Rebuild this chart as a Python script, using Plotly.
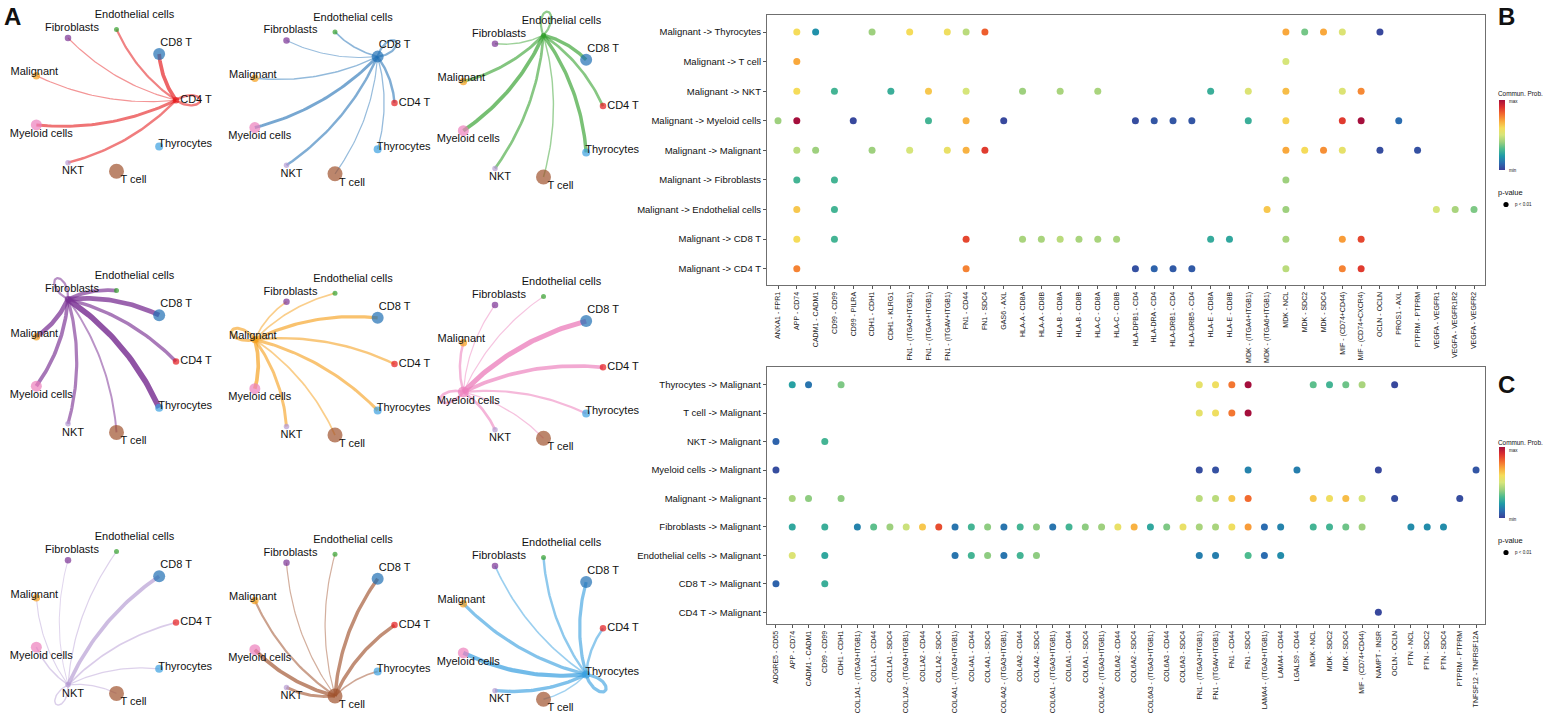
import math
import numpy as np
import plotly.graph_objects as go

W, H = 1545, 713
FONT = "Arial, 'Liberation Sans', Helvetica, sans-serif"

# ---------------- Panel A data ----------------
cell_groups = ["CD4 T", "CD8 T", "Endothelial cells", "Fibroblasts", "Malignant",
               "Myeloid cells", "NKT", "T cell", "Thyrocytes"]
group_colors = ["#e41a1c", "#1f6fb4", "#33a02c", "#7b3294", "#f59e1a",
                "#ec7fbc", "#b59bd3", "#a0522d", "#3aa0e0"]
group_size = [6.5, 12, 5, 6.5, 7.5, 11, 5.5, 15, 8]

# relative interaction strength: sender -> receivers (receivers in cell_groups order)
from_cd4t = [0.35, 0.60, 0.30, 0.10, 0.10, 0.45, 0.35, 0.00, 0.00]
from_cd8t = [0.35, 0.30, 0.20, 0.08, 0.15, 0.45, 0.35, 0.10, 0.12]
from_endothelial = [0.40, 0.55, 0.30, 0.15, 0.45, 0.60, 0.40, 0.15, 0.55]
from_fibroblasts = [0.55, 0.80, 0.60, 0.30, 0.75, 0.60, 0.50, 0.25, 1.00]
from_malignant = [0.35, 0.50, 0.20, 0.20, 0.45, 0.60, 0.45, 0.20, 0.45]
from_myeloid = [0.60, 0.85, 0.10, 0.10, 0.35, 0.40, 0.40, 0.12, 0.30]
from_nkt = [0.20, 0.60, 0.10, 0.05, 0.08, 0.15, 0.15, 0.10, 0.10]
from_tcell = [0.55, 0.55, 0.10, 0.10, 0.30, 0.60, 0.45, 0.00, 0.20]
from_thyrocytes = [0.35, 0.50, 0.35, 0.20, 0.50, 0.70, 0.55, 0.15, 0.50]
sender_strengths = [from_cd4t, from_cd8t, from_endothelial, from_fibroblasts, from_malignant,
                    from_myeloid, from_nkt, from_tcell, from_thyrocytes]

# ---------------- Panel B data ----------------
b_rows = ["Malignant -> Thyrocytes", "Malignant -> T cell", "Malignant -> NKT",
          "Malignant -> Myeloid cells", "Malignant -> Malignant", "Malignant -> Fibroblasts",
          "Malignant -> Endothelial cells", "Malignant -> CD8 T", "Malignant -> CD4 T"]
b_pairs = ["ANXA1 - FPR1", "APP - CD74", "CADM1 - CADM1", "CD99 - CD99", "CD99 - PILRA",
           "CDH1 - CDH1", "CDH1 - KLRG1", "FN1 - (ITGA3+ITGB1)", "FN1 - (ITGA4+ITGB1)",
           "FN1 - (ITGAV+ITGB1)", "FN1 - CD44", "FN1 - SDC4", "GAS6 - AXL", "HLA-A - CD8A",
           "HLA-A - CD8B", "HLA-B - CD8A", "HLA-B - CD8B", "HLA-C - CD8A", "HLA-C - CD8B",
           "HLA-DPB1 - CD4", "HLA-DRA - CD4", "HLA-DRB1 - CD4", "HLA-DRB5 - CD4",
           "HLA-E - CD8A", "HLA-E - CD8B", "MDK - (ITGA4+ITGB1)", "MDK - (ITGA6+ITGB1)",
           "MDK - NCL", "MDK - SDC2", "MDK - SDC4", "MIF - (CD74+CD44)", "MIF - (CD74+CXCR4)",
           "OCLN - OCLN", "PROS1 - AXL", "PTPRM - PTPRM", "VEGFA - VEGFR1", "VEGFA - VEGFR1R2",
           "VEGFA - VEGFR2"]
b_to_thyrocytes = {"APP - CD74": 0.60, "CADM1 - CADM1": 0.18, "CDH1 - CDH1": 0.40,
                   "FN1 - (ITGA3+ITGB1)": 0.60, "FN1 - (ITGAV+ITGB1)": 0.58, "FN1 - CD44": 0.45,
                   "FN1 - SDC4": 0.82, "MDK - NCL": 0.70, "MDK - SDC2": 0.35, "MDK - SDC4": 0.70,
                   "MIF - (CD74+CD44)": 0.52, "OCLN - OCLN": 0.02}
b_to_tcell = {"APP - CD74": 0.70, "MDK - NCL": 0.50}
b_to_nkt = {"APP - CD74": 0.60, "CD99 - CD99": 0.28, "CDH1 - KLRG1": 0.26,
            "FN1 - (ITGA4+ITGB1)": 0.64, "FN1 - CD44": 0.50, "HLA-A - CD8A": 0.40,
            "HLA-B - CD8A": 0.42, "HLA-C - CD8A": 0.42, "HLA-E - CD8A": 0.26,
            "MDK - (ITGA4+ITGB1)": 0.52, "MDK - NCL": 0.66, "MIF - (CD74+CD44)": 0.52,
            "MIF - (CD74+CXCR4)": 0.75}
b_to_myeloid = {"ANXA1 - FPR1": 0.40, "APP - CD74": 1.00, "CD99 - PILRA": 0.02,
                "FN1 - (ITGA4+ITGB1)": 0.28, "FN1 - CD44": 0.68, "GAS6 - AXL": 0.02,
                "HLA-DPB1 - CD4": 0.03, "HLA-DRA - CD4": 0.05, "HLA-DRB1 - CD4": 0.05,
                "HLA-DRB5 - CD4": 0.05, "MDK - (ITGA4+ITGB1)": 0.26, "MDK - NCL": 0.62,
                "MIF - (CD74+CD44)": 0.88, "MIF - (CD74+CXCR4)": 1.00, "PROS1 - AXL": 0.10}
b_to_malignant = {"APP - CD74": 0.45, "CADM1 - CADM1": 0.40, "CDH1 - CDH1": 0.40,
                  "FN1 - (ITGA3+ITGB1)": 0.50, "FN1 - (ITGAV+ITGB1)": 0.56, "FN1 - CD44": 0.68,
                  "FN1 - SDC4": 0.88, "MDK - NCL": 0.70, "MDK - SDC2": 0.60, "MDK - SDC4": 0.74,
                  "MIF - (CD74+CD44)": 0.55, "OCLN - OCLN": 0.03, "PTPRM - PTPRM": 0.04}
b_to_fibroblasts = {"APP - CD74": 0.28, "CD99 - CD99": 0.28, "MDK - NCL": 0.40}
b_to_endothelial = {"APP - CD74": 0.64, "CD99 - CD99": 0.28, "MDK - (ITGA6+ITGB1)": 0.64,
                    "MDK - NCL": 0.40, "VEGFA - VEGFR1": 0.50, "VEGFA - VEGFR1R2": 0.42,
                    "VEGFA - VEGFR2": 0.36}
b_to_cd8t = {"APP - CD74": 0.60, "CD99 - CD99": 0.28, "FN1 - CD44": 0.86, "HLA-A - CD8A": 0.42,
             "HLA-A - CD8B": 0.42, "HLA-B - CD8A": 0.45, "HLA-B - CD8B": 0.42,
             "HLA-C - CD8A": 0.42, "HLA-C - CD8B": 0.42, "HLA-E - CD8A": 0.25,
             "HLA-E - CD8B": 0.24, "MDK - NCL": 0.42, "MIF - (CD74+CD44)": 0.72,
             "MIF - (CD74+CXCR4)": 0.86}
b_to_cd4t = {"APP - CD74": 0.76, "FN1 - CD44": 0.76, "HLA-DPB1 - CD4": 0.04,
             "HLA-DRA - CD4": 0.08, "HLA-DRB1 - CD4": 0.06, "HLA-DRB5 - CD4": 0.06,
             "MDK - NCL": 0.45, "MIF - (CD74+CD44)": 0.76, "MIF - (CD74+CXCR4)": 0.88}
b_values = [b_to_thyrocytes, b_to_tcell, b_to_nkt, b_to_myeloid, b_to_malignant,
            b_to_fibroblasts, b_to_endothelial, b_to_cd8t, b_to_cd4t]

# ---------------- Panel C data ----------------
c_rows = ["Thyrocytes -> Malignant", "T cell -> Malignant", "NKT -> Malignant",
          "Myeloid cells -> Malignant", "Malignant -> Malignant", "Fibroblasts -> Malignant",
          "Endothelial cells -> Malignant", "CD8 T -> Malignant", "CD4 T -> Malignant"]
c_pairs = ["ADGRE5 - CD55", "APP - CD74", "CADM1 - CADM1", "CD99 - CD99", "CDH1 - CDH1",
           "COL1A1 - (ITGA3+ITGB1)", "COL1A1 - CD44", "COL1A1 - SDC4",
           "COL1A2 - (ITGA3+ITGB1)", "COL1A2 - CD44", "COL1A2 - SDC4",
           "COL4A1 - (ITGA3+ITGB1)", "COL4A1 - CD44", "COL4A1 - SDC4",
           "COL4A2 - (ITGA3+ITGB1)", "COL4A2 - CD44", "COL4A2 - SDC4",
           "COL6A1 - (ITGA3+ITGB1)", "COL6A1 - CD44", "COL6A1 - SDC4",
           "COL6A2 - (ITGA3+ITGB1)", "COL6A2 - CD44", "COL6A2 - SDC4",
           "COL6A3 - (ITGA3+ITGB1)", "COL6A3 - CD44", "COL6A3 - SDC4",
           "FN1 - (ITGA3+ITGB1)", "FN1 - (ITGAV+ITGB1)", "FN1 - CD44", "FN1 - SDC4",
           "LAMA4 - (ITGA3+ITGB1)", "LAMA4 - CD44", "LGALS9 - CD44", "MDK - NCL", "MDK - SDC2",
           "MDK - SDC4", "MIF - (CD74+CD44)", "NAMPT - INSR", "OCLN - OCLN", "PTN - NCL",
           "PTN - SDC2", "PTN - SDC4", "PTPRM - PTPRM", "TNFSF12 - TNFRSF12A"]
c_from_thyrocytes = {"APP - CD74": 0.22, "CADM1 - CADM1": 0.12, "CDH1 - CDH1": 0.36,
                     "FN1 - (ITGA3+ITGB1)": 0.55, "FN1 - (ITGAV+ITGB1)": 0.58, "FN1 - CD44": 0.78,
                     "FN1 - SDC4": 1.00, "MDK - NCL": 0.32, "MDK - SDC2": 0.28, "MDK - SDC4": 0.34,
                     "MIF - (CD74+CD44)": 0.42, "OCLN - OCLN": 0.02}
c_from_tcell = {"FN1 - (ITGA3+ITGB1)": 0.55, "FN1 - (ITGAV+ITGB1)": 0.58, "FN1 - CD44": 0.78,
                "FN1 - SDC4": 1.00}
c_from_nkt = {"ADGRE5 - CD55": 0.08, "CD99 - CD99": 0.28}
c_from_myeloid = {"ADGRE5 - CD55": 0.03, "FN1 - (ITGA3+ITGB1)": 0.03,
                  "FN1 - (ITGAV+ITGB1)": 0.04, "FN1 - SDC4": 0.15, "LGALS9 - CD44": 0.14,
                  "NAMPT - INSR": 0.02, "TNFSF12 - TNFRSF12A": 0.05}
c_from_malignant = {"APP - CD74": 0.42, "CADM1 - CADM1": 0.38, "CDH1 - CDH1": 0.38,
                    "FN1 - (ITGA3+ITGB1)": 0.45, "FN1 - (ITGAV+ITGB1)": 0.45, "FN1 - CD44": 0.64,
                    "FN1 - SDC4": 0.80, "MDK - NCL": 0.64, "MDK - SDC2": 0.58, "MDK - SDC4": 0.66,
                    "MIF - (CD74+CD44)": 0.50, "OCLN - OCLN": 0.03, "PTPRM - PTPRM": 0.03}
c_from_fibroblasts = {"APP - CD74": 0.24, "CD99 - CD99": 0.26,
                      "COL1A1 - (ITGA3+ITGB1)": 0.15, "COL1A1 - CD44": 0.32, "COL1A1 - SDC4": 0.40,
                      "COL1A2 - (ITGA3+ITGB1)": 0.48, "COL1A2 - CD44": 0.64, "COL1A2 - SDC4": 0.85,
                      "COL4A1 - (ITGA3+ITGB1)": 0.12, "COL4A1 - CD44": 0.28, "COL4A1 - SDC4": 0.38,
                      "COL4A2 - (ITGA3+ITGB1)": 0.12, "COL4A2 - CD44": 0.28, "COL4A2 - SDC4": 0.38,
                      "COL6A1 - (ITGA3+ITGB1)": 0.12, "COL6A1 - CD44": 0.28, "COL6A1 - SDC4": 0.38,
                      "COL6A2 - (ITGA3+ITGB1)": 0.40, "COL6A2 - CD44": 0.56, "COL6A2 - SDC4": 0.68,
                      "COL6A3 - (ITGA3+ITGB1)": 0.24, "COL6A3 - CD44": 0.36, "COL6A3 - SDC4": 0.56,
                      "FN1 - (ITGA3+ITGB1)": 0.42, "FN1 - (ITGAV+ITGB1)": 0.42, "FN1 - CD44": 0.58,
                      "FN1 - SDC4": 0.72, "LAMA4 - (ITGA3+ITGB1)": 0.10, "LAMA4 - CD44": 0.15,
                      "MDK - NCL": 0.28, "MDK - SDC2": 0.28, "MDK - SDC4": 0.34,
                      "MIF - (CD74+CD44)": 0.40, "PTN - NCL": 0.17, "PTN - SDC2": 0.17,
                      "PTN - SDC4": 0.17}
c_from_endothelial = {"APP - CD74": 0.52, "CD99 - CD99": 0.24,
                      "COL4A1 - (ITGA3+ITGB1)": 0.12, "COL4A1 - CD44": 0.28, "COL4A1 - SDC4": 0.38,
                      "COL4A2 - (ITGA3+ITGB1)": 0.12, "COL4A2 - CD44": 0.28, "COL4A2 - SDC4": 0.38,
                      "FN1 - (ITGA3+ITGB1)": 0.14, "FN1 - (ITGAV+ITGB1)": 0.14, "FN1 - SDC4": 0.30,
                      "LAMA4 - (ITGA3+ITGB1)": 0.10, "LAMA4 - CD44": 0.17}
c_from_cd8t = {"ADGRE5 - CD55": 0.08, "CD99 - CD99": 0.26}
c_from_cd4t = {"NAMPT - INSR": 0.02}
c_values = [c_from_thyrocytes, c_from_tcell, c_from_nkt, c_from_myeloid, c_from_malignant,
            c_from_fibroblasts, c_from_endothelial, c_from_cd8t, c_from_cd4t]

# ---------------- styles / geometry ----------------
PROB_SCALE = [[0.0, "#3b3f98"], [0.1, "#2b6cb0"], [0.2, "#1f9aa8"], [0.3, "#4dbb8f"],
              [0.4, "#9ed07e"], [0.5, "#d6e57a"], [0.6, "#f5dc5a"], [0.7, "#f9a83c"],
              [0.8, "#f26a2e"], [0.9, "#dc2f2f"], [1.0, "#a50f3c"]]
R = 72.0
CURV = 0.14
col_cx = [104.0, 322.5, 531.0]
row_cy = [100.3, 361.5, 622.5]
col_dy = [0.0, 2.6, 5.8]
label_offset = {"CD4 T": (20, 0), "CD8 T": (17, -11), "Endothelial cells": (18, -14),
                "Fibroblasts": (4, -10), "Malignant": (-2, -3), "Myeloid cells": (5, 9),
                "NKT": (5, 9), "T cell": (17, 9), "Thyrocytes": (26, -2)}


def rgba(hx, a):
    hx = hx.lstrip("#")
    r, g, b = int(hx[0:2], 16), int(hx[2:4], 16), int(hx[4:6], 16)
    return f"rgba({r},{g},{b},{a:.3f})"


def bezier(p0, p2, curv=CURV, n=40):
    dx, dy = p2[0] - p0[0], p2[1] - p0[1]
    mx, my = (p0[0] + p2[0]) / 2, (p0[1] + p2[1]) / 2
    cx, cy = mx + curv * dy, my - curv * dx
    t = np.linspace(0, 1, n)
    x = (1 - t) ** 2 * p0[0] + 2 * (1 - t) * t * cx + t ** 2 * p2[0]
    y = (1 - t) ** 2 * p0[1] + 2 * (1 - t) * t * cy + t ** 2 * p2[1]
    return x, y


def loop(p, theta, length=24, spread=0.6, n=50):
    t = np.linspace(0, 1, n)
    r = length * np.sin(np.pi * t)
    ang = theta + (t - 0.5) * spread * 2
    return p[0] + r * np.cos(ang), p[1] - r * np.sin(ang)


fig = go.Figure()
n_groups = len(cell_groups)
angles = [math.radians(40 * k) for k in range(n_groups)]

for s in range(n_groups):
    row, col = divmod(s, 3)
    cx, cy = col_cx[col], row_cy[row] + col_dy[col]
    pos = [(cx + R * math.cos(a), cy - R * math.sin(a)) for a in angles]
    strengths = sender_strengths[s]
    order = sorted(range(n_groups), key=lambda k: strengths[k])
    for k in order:
        w = strengths[k]
        if w <= 0:
            continue
        if k == s:
            ex, ey = loop(pos[s], angles[s], length=22 + 6 * w)
        else:
            ex, ey = bezier(pos[s], pos[k])
        fig.add_trace(go.Scatter(
            x=ex, y=ey, mode="lines", xaxis="x", yaxis="y", hoverinfo="skip",
            line=dict(color=rgba(group_colors[s], 0.42 + 0.42 * w), width=0.7 + 5.0 * w),
            showlegend=False))
    fig.add_trace(go.Scatter(
        x=[p[0] for p in pos], y=[p[1] for p in pos], mode="markers", xaxis="x", yaxis="y",
        marker=dict(size=group_size, color=group_colors, line=dict(width=0)),
        text=cell_groups, hoverinfo="text", showlegend=False))
    fig.add_trace(go.Scatter(
        x=[p[0] + label_offset[g][0] for p, g in zip(pos, cell_groups)],
        y=[p[1] + label_offset[g][1] for p, g in zip(pos, cell_groups)],
        mode="text", text=cell_groups, xaxis="x", yaxis="y", hoverinfo="skip",
        textfont=dict(family=FONT, size=11, color="#111"), showlegend=False))


def bubble(rows, values, pairs, xa, ya, cax):
    xs, ys, cs, tx = [], [], [], []
    for i, (rname, d) in enumerate(zip(rows, values)):
        for pair, v in d.items():
            xs.append(pairs.index(pair))
            ys.append(i)
            cs.append(v)
            tx.append(f"{rname}<br>{pair}")
    fig.add_trace(go.Scatter(
        x=xs, y=ys, mode="markers", xaxis=xa, yaxis=ya, text=tx, hoverinfo="text",
        marker=dict(size=7, color=cs, coloraxis=cax, line=dict(width=0)), showlegend=False))


bubble(b_rows, b_values, b_pairs, "x2", "y2", "coloraxis")
bubble(c_rows, c_values, c_pairs, "x3", "y3", "coloraxis2")

frame = dict(showline=True, mirror=True, linecolor="#6f6f6f", linewidth=1.2, showgrid=False,
             zeroline=False, ticks="outside", ticklen=3, tickcolor="#555", tickwidth=1)

xl, xr = 767 / W, 1485 / W


def cbar(ymid, ln):
    return dict(x=1499 / W, xanchor="left", y=1 - ymid / H, yanchor="middle", len=ln,
                lenmode="pixels", thickness=6, thicknessmode="pixels", outlinewidth=0,
                xpad=0, ypad=0, showticklabels=False, ticks="")


fig.update_layout(
    width=W, height=H, margin=dict(l=0, r=0, t=0, b=0),
    paper_bgcolor="white", plot_bgcolor="white",
    font=dict(family=FONT, color="#111"),
    xaxis=dict(domain=[0, 650 / W], range=[0, 650], visible=False, fixedrange=True),
    yaxis=dict(domain=[0, 1], range=[H, 0], visible=False, fixedrange=True),
    xaxis2=dict(domain=[xl, xr], anchor="y2", range=[-0.585, len(b_pairs) - 1 + 0.585],
                tickvals=list(range(len(b_pairs))), ticktext=b_pairs, tickangle=-90,
                tickfont=dict(size=7, family=FONT, color="#222"), **frame),
    yaxis2=dict(domain=[1 - 285 / H, 1 - 15 / H], anchor="x2", range=[8.55, -0.575],
                tickvals=list(range(len(b_rows))), ticktext=b_rows,
                tickfont=dict(size=9.5, family=FONT, color="#111"), **frame),
    xaxis3=dict(domain=[xl, xr], anchor="y3", range=[-0.55, len(c_pairs) - 1 + 0.55],
                tickvals=list(range(len(c_pairs))), ticktext=c_pairs, tickangle=-90,
                tickfont=dict(size=7, family=FONT, color="#222"), **frame),
    yaxis3=dict(domain=[1 - 624 / H, 1 - 367 / H], anchor="x3", range=[8.41, -0.62],
                tickvals=list(range(len(c_rows))), ticktext=c_rows,
                tickfont=dict(size=9.5, family=FONT, color="#111"), **frame),
    coloraxis=dict(cmin=0, cmax=1, colorscale=PROB_SCALE, colorbar=cbar(135, 70)),
    coloraxis2=dict(cmin=0, cmax=1, colorscale=PROB_SCALE, colorbar=cbar(482.5, 71)),
)


def txt(x, y, s, size, anchor="left", bold=False):
    fig.add_annotation(x=x / W, y=1 - y / H, xref="paper", yref="paper", text=s,
                       showarrow=False, xanchor=anchor, yanchor="middle",
                       font=dict(family=FONT, size=size, color="#111",
                                 weight="bold" if bold else "normal"))


txt(12, 16, "A", 24, "center", True)
txt(1506, 16, "B", 24, "center", True)
txt(1506, 384, "C", 24, "center", True)
for top, pv in [(93, 192), (442, 540)]:
    txt(1496, top, "Commun. Prob.", 6.4)
    txt(1507, top + 8, "max", 4.5)
    txt(1507, top + 77, "min", 4.5)
    txt(1496, pv, "p-value", 7.5)
    txt(1513, pv + 12.5, "p < 0.01", 4.5)
    fig.add_shape(type="circle", xref="paper", yref="paper", xsizemode="pixel",
                  ysizemode="pixel", xanchor=1506 / W, yanchor=1 - (pv + 12.5) / H,
                  x0=-2.6, x1=2.6, y0=-2.6, y1=2.6, fillcolor="black", line=dict(width=0))

fig.write_html("out.html", config={"displayModeBar": False},
               post_script="document.body.style.margin='0';document.body.style.overflow='hidden';")
